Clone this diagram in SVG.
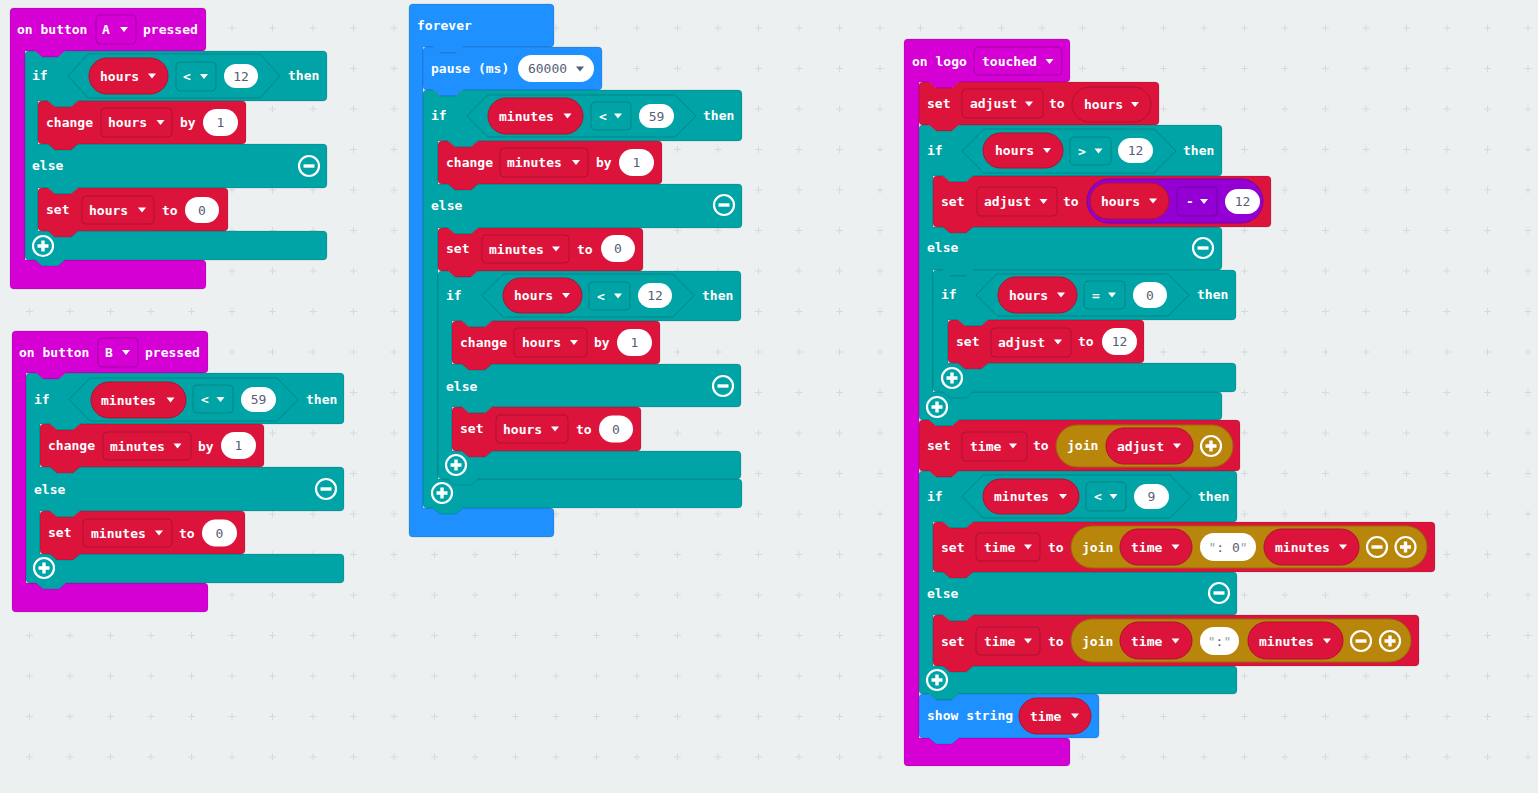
<svg xmlns="http://www.w3.org/2000/svg" xmlns:xlink="http://www.w3.org/1999/xlink" width="1538" height="793" viewBox="0 0 1538 793">
<style>
.ev{fill:#D400D4}.lg{fill:#00A4A6}.vr{fill:#DC143C}.bs{fill:#1E90FF}
.blk{stroke:rgba(0,0,0,0.13);stroke-width:1}
.hex{fill:#00A4A6;stroke:#008587;stroke-width:1}
.dr{fill:#DC143C;stroke:#B01030;stroke-width:1}
.dl{fill:#00A4A6;stroke:#008587;stroke-width:1}
.de{fill:#D400D4;stroke:#A800A8;stroke-width:1}
.dm{fill:#9400D3;stroke:#7300A5;stroke-width:1}
.dg{fill:#B8860B;stroke:#936B08;stroke-width:1}
.num{fill:#fff}
.t{font-family:"DejaVu Sans Mono","Liberation Mono",monospace;font-size:13px;font-weight:bold;fill:#fff;dominant-baseline:central}
.n{font-family:"DejaVu Sans Mono","Liberation Mono",monospace;font-size:13px;fill:#575E75;text-anchor:middle;dominant-baseline:central}
.q{fill:#9a9ea8}
.a{fill:#fff}
</style>
<defs>
<pattern id="grid" x="9.25" y="7.75" width="40.5" height="40.5" patternUnits="userSpaceOnUse"><path d="M16.75,20.25 h7 M20.25,16.75 v7" stroke="#d5dadc" stroke-width="1" fill="none"/></pattern>
<path id="ar" d="M-4,-2.5 h8 l-4,5 z"/>
<g id="plus"><circle r="10" fill="none" stroke="#fff" stroke-width="2.2"/><path d="M-5.5,0 h11 M0,-5.5 v11" stroke="#fff" stroke-width="3.4"/></g>
<g id="minus"><circle r="10" fill="none" stroke="#fff" stroke-width="2.2"/><path d="M-5.5,0 h11" stroke="#fff" stroke-width="3.4"/></g>
</defs>
<rect width="1538" height="793" fill="#ecf0f1"/>
<rect width="1538" height="793" fill="url(#grid)"/>

<g id="onButtonA">
<path class="ev blk" d="M10,12 a4,4 0 0 1 4,-4 H202 a4,4 0 0 1 4,4 V47 a4,4 0 0 1 -4,4 H65 l-7,6 h-16 l-7,-6 H25 V260 H202 a4,4 0 0 1 4,4 V285 a4,4 0 0 1 -4,4 H14 a4,4 0 0 1 -4,-4 Z"/>
<text class="t" x="17" y="29">on button</text>
<rect class="de" x="96" y="15" width="40" height="29" rx="4"/>
<text class="t" x="102" y="29.5">A</text><use href="#ar" class="a" x="124" y="29.5"/>
<text class="t" x="143" y="29">pressed</text>
<g id="ifA">
<path class="lg blk" d="M25,55 a4,4 0 0 1 4,-4 h6 l7,6 h16 l7,-6 H323 a4,4 0 0 1 4,4 V97 a4,4 0 0 1 -4,4 H78 l-7,6 h-16 l-7,-6 H38 V144 H323 a4,4 0 0 1 4,4 V184 a4,4 0 0 1 -4,4 H78 l-7,6 h-16 l-7,-6 H38 V231 H323 a4,4 0 0 1 4,4 V256 a4,4 0 0 1 -4,4 H65 l-7,6 h-16 l-7,-6 H29 a4,4 0 0 1 -4,-4 Z"/>
<text class="t" x="32" y="75">if</text>
<polygon class="hex" points="68,76 88,54 260,54 280,76 260,98 88,98"/>
<rect class="dr" x="89" y="58" width="79" height="36" rx="18"/>
<text class="t" x="100" y="76">hours</text><use href="#ar" class="a" x="152" y="76"/>
<rect class="dl" x="176" y="62" width="40" height="29" rx="4"/>
<text class="t" x="183" y="76.5">&lt;</text><use href="#ar" class="a" x="204" y="76.5"/>
<rect class="num" x="224" y="64" width="34" height="24" rx="12"/>
<text class="n" x="241" y="76">12</text>
<text class="t" x="288" y="75">then</text>
<text class="t" x="32" y="165">else</text>
<use href="#minus" x="309" y="166"/>
<use href="#plus" x="43" y="246"/>
</g>
<g id="changeA">
<path class="vr blk" d="M38,105 a4,4 0 0 1 4,-4 h6 l7,6 h16 l7,-6 H242 a4,4 0 0 1 4,4 V140 a4,4 0 0 1 -4,4 H78 l-7,6 h-16 l-7,-6 H42 a4,4 0 0 1 -4,-4 Z"/>
<text class="t" x="46" y="122.5">change</text>
<rect class="dr" x="101" y="108" width="71" height="29" rx="4"/>
<text class="t" x="108" y="122.5">hours</text><use href="#ar" class="a" x="160.5" y="122.5"/>
<text class="t" x="180" y="122.5">by</text>
<rect class="num" x="203" y="109" width="35" height="27" rx="13.5"/>
<text class="n" x="220.5" y="122.5">1</text>
</g>
<g id="setA">
<path class="vr blk" d="M38,192 a4,4 0 0 1 4,-4 h6 l7,6 h16 l7,-6 H224 a4,4 0 0 1 4,4 V227 a4,4 0 0 1 -4,4 H78 l-7,6 h-16 l-7,-6 H42 a4,4 0 0 1 -4,-4 Z"/>
<text class="t" x="46" y="209.5">set</text>
<rect class="dr" x="82" y="196" width="72" height="28" rx="4"/>
<text class="t" x="89" y="210">hours</text><use href="#ar" class="a" x="142" y="210"/>
<text class="t" x="162" y="210">to</text>
<rect class="num" x="185" y="197" width="34" height="26" rx="13"/>
<text class="n" x="202" y="210">0</text>
</g>
</g>

<g id="onButtonB">
<path class="ev blk" d="M12,335 a4,4 0 0 1 4,-4 H204 a4,4 0 0 1 4,4 V369 a4,4 0 0 1 -4,4 H66 l-7,6 h-16 l-7,-6 H26 V583 H204 a4,4 0 0 1 4,4 V608 a4,4 0 0 1 -4,4 H16 a4,4 0 0 1 -4,-4 Z"/>
<text class="t" x="19" y="352">on button</text>
<rect class="de" x="98" y="338" width="40" height="29" rx="4"/>
<text class="t" x="105" y="352.5">B</text><use href="#ar" class="a" x="126" y="352.5"/>
<text class="t" x="145" y="352">pressed</text>
<g id="ifB">
<path class="lg blk" d="M26,377 a4,4 0 0 1 4,-4 h6 l7,6 h16 l7,-6 H340 a4,4 0 0 1 4,4 V420 a4,4 0 0 1 -4,4 H80 l-7,6 h-16 l-7,-6 H40 V467 H340 a4,4 0 0 1 4,4 V507 a4,4 0 0 1 -4,4 H80 l-7,6 h-16 l-7,-6 H40 V554 H340 a4,4 0 0 1 4,4 V579 a4,4 0 0 1 -4,4 H66 l-7,6 h-16 l-7,-6 H30 a4,4 0 0 1 -4,-4 Z"/>
<text class="t" x="34" y="399">if</text>
<polygon class="hex" points="69,399.5 90,378 277,378 298,399.5 277,421 90,421"/>
<rect class="dr" x="91" y="382" width="95" height="36" rx="18"/>
<text class="t" x="101" y="400">minutes</text><use href="#ar" class="a" x="170.5" y="400"/>
<rect class="dl" x="193" y="385" width="40" height="28" rx="4"/>
<text class="t" x="201" y="399.5">&lt;</text><use href="#ar" class="a" x="220.5" y="399.5"/>
<rect class="num" x="241" y="387" width="35" height="25" rx="12.5"/>
<text class="n" x="258.5" y="399.5">59</text>
<text class="t" x="306" y="399">then</text>
<text class="t" x="34" y="489">else</text>
<use href="#minus" x="326" y="489"/>
<use href="#plus" x="44" y="568"/>
</g>
<g id="changeB">
<path class="vr blk" d="M40,428 a4,4 0 0 1 4,-4 h6 l7,6 h16 l7,-6 H260 a4,4 0 0 1 4,4 V463 a4,4 0 0 1 -4,4 H80 l-7,6 h-16 l-7,-6 H44 a4,4 0 0 1 -4,-4 Z"/>
<text class="t" x="48" y="445.5">change</text>
<rect class="dr" x="103" y="432" width="88" height="28" rx="4"/>
<text class="t" x="110" y="446">minutes</text><use href="#ar" class="a" x="177.5" y="446"/>
<text class="t" x="198" y="446">by</text>
<rect class="num" x="221" y="432" width="35" height="27" rx="13.5"/>
<text class="n" x="238.5" y="445.5">1</text>
</g>
<g id="setB">
<path class="vr blk" d="M40,515 a4,4 0 0 1 4,-4 h6 l7,6 h16 l7,-6 H241 a4,4 0 0 1 4,4 V550 a4,4 0 0 1 -4,4 H80 l-7,6 h-16 l-7,-6 H44 a4,4 0 0 1 -4,-4 Z"/>
<text class="t" x="48" y="532.5">set</text>
<rect class="dr" x="83" y="519" width="89" height="28" rx="4"/>
<text class="t" x="91" y="533">minutes</text><use href="#ar" class="a" x="159" y="533"/>
<text class="t" x="179" y="533">to</text>
<rect class="num" x="202" y="519.5" width="35" height="27" rx="13.5"/>
<text class="n" x="219.5" y="533">0</text>
</g>
</g>

<g id="forever">
<path class="bs blk" d="M409,8 a4,4 0 0 1 4,-4 H550 a4,4 0 0 1 4,4 V43 a4,4 0 0 1 -4,4 H463 l-7,6 h-16 l-7,-6 H423 V508 H550 a4,4 0 0 1 4,4 V533 a4,4 0 0 1 -4,4 H413 a4,4 0 0 1 -4,-4 Z"/>
<text class="t" x="417" y="25">forever</text>
<g id="pause">
<path class="bs blk" d="M423,51 a4,4 0 0 1 4,-4 h6 l7,6 h16 l7,-6 H598 a4,4 0 0 1 4,4 V86 a4,4 0 0 1 -4,4 H463 l-7,6 h-16 l-7,-6 H427 a4,4 0 0 1 -4,-4 Z"/>
<text class="t" x="431" y="68.5">pause (ms)</text>
<rect class="num" x="518" y="55" width="76" height="27" rx="13.5"/>
<text class="n" x="547.5" y="68.5">60000</text><use href="#ar" x="580" y="69" fill="#575E75"/>
</g>
<g id="ifF1">
<path class="lg blk" d="M423,94 a4,4 0 0 1 4,-4 h6 l7,6 h16 l7,-6 H738 a4,4 0 0 1 4,4 V137 a4,4 0 0 1 -4,4 H478 l-7,6 h-16 l-7,-6 H438 V184 H738 a4,4 0 0 1 4,4 V224 a4,4 0 0 1 -4,4 H478 l-7,6 h-16 l-7,-6 H438 V479 H738 a4,4 0 0 1 4,4 V504 a4,4 0 0 1 -4,4 H463 l-7,6 h-16 l-7,-6 H427 a4,4 0 0 1 -4,-4 Z"/>
<text class="t" x="431" y="115.5">if</text>
<polygon class="hex" points="467,116 488,95 675,95 696,116 675,137 488,137"/>
<rect class="dr" x="488" y="98" width="95" height="36" rx="18"/>
<text class="t" x="499" y="116">minutes</text><use href="#ar" class="a" x="567.5" y="116"/>
<rect class="dl" x="591" y="102" width="40" height="28" rx="4"/>
<text class="t" x="599" y="116">&lt;</text><use href="#ar" class="a" x="618" y="116"/>
<rect class="num" x="639" y="104" width="35" height="24" rx="12"/>
<text class="n" x="656.5" y="116">59</text>
<text class="t" x="703" y="115.5">then</text>
<text class="t" x="431" y="205.5">else</text>
<use href="#minus" x="724" y="205"/>
<use href="#plus" x="442" y="493"/>
</g>
<g id="changeF1">
<path class="vr blk" d="M438,145 a4,4 0 0 1 4,-4 h6 l7,6 h16 l7,-6 H658 a4,4 0 0 1 4,4 V180 a4,4 0 0 1 -4,4 H478 l-7,6 h-16 l-7,-6 H442 a4,4 0 0 1 -4,-4 Z"/>
<text class="t" x="446" y="162.5">change</text>
<rect class="dr" x="500" y="148" width="88" height="29" rx="4"/>
<text class="t" x="507" y="162.5">minutes</text><use href="#ar" class="a" x="576" y="162.5"/>
<text class="t" x="596" y="162.5">by</text>
<rect class="num" x="619" y="149" width="35" height="27" rx="13.5"/>
<text class="n" x="636.5" y="162.5">1</text>
</g>
<g id="setF1">
<path class="vr blk" d="M438,232 a4,4 0 0 1 4,-4 h6 l7,6 h16 l7,-6 H639 a4,4 0 0 1 4,4 V267 a4,4 0 0 1 -4,4 H478 l-7,6 h-16 l-7,-6 H442 a4,4 0 0 1 -4,-4 Z"/>
<text class="t" x="446" y="248.5">set</text>
<rect class="dr" x="482" y="235" width="87" height="28" rx="4"/>
<text class="t" x="489" y="249">minutes</text><use href="#ar" class="a" x="556" y="249"/>
<text class="t" x="577" y="249">to</text>
<rect class="num" x="601" y="235" width="34" height="27" rx="13.5"/>
<text class="n" x="618" y="248.5">0</text>
</g>
<g id="ifF2">
<path class="lg blk" d="M438,275 a4,4 0 0 1 4,-4 h6 l7,6 h16 l7,-6 H737 a4,4 0 0 1 4,4 V317 a4,4 0 0 1 -4,4 H492 l-7,6 h-16 l-7,-6 H452 V364 H737 a4,4 0 0 1 4,4 V403 a4,4 0 0 1 -4,4 H492 l-7,6 h-16 l-7,-6 H452 V451 H737 a4,4 0 0 1 4,4 V475 a4,4 0 0 1 -4,4 H478 l-7,6 h-16 l-7,-6 H442 a4,4 0 0 1 -4,-4 Z"/>
<text class="t" x="446" y="295.5">if</text>
<polygon class="hex" points="482,295.5 503,274 673,274 694,295.5 673,317 503,317"/>
<rect class="dr" x="503" y="278" width="79" height="35" rx="17.5"/>
<text class="t" x="514" y="295.5">hours</text><use href="#ar" class="a" x="566" y="295.5"/>
<rect class="dl" x="589" y="282" width="41" height="28" rx="4"/>
<text class="t" x="597" y="296">&lt;</text><use href="#ar" class="a" x="618" y="296"/>
<rect class="num" x="638" y="283" width="34" height="25" rx="12.5"/>
<text class="n" x="655" y="295.5">12</text>
<text class="t" x="702" y="295.5">then</text>
<text class="t" x="446" y="386">else</text>
<use href="#minus" x="723" y="386"/>
<use href="#plus" x="456" y="465"/>
</g>
<g id="changeF2">
<path class="vr blk" d="M452,325 a4,4 0 0 1 4,-4 h6 l7,6 h16 l7,-6 H656 a4,4 0 0 1 4,4 V360 a4,4 0 0 1 -4,4 H492 l-7,6 h-16 l-7,-6 H456 a4,4 0 0 1 -4,-4 Z"/>
<text class="t" x="460" y="342.5">change</text>
<rect class="dr" x="514" y="328" width="73" height="29" rx="4"/>
<text class="t" x="522" y="342.5">hours</text><use href="#ar" class="a" x="574" y="342.5"/>
<text class="t" x="594" y="342.5">by</text>
<rect class="num" x="617" y="329" width="35" height="27" rx="13.5"/>
<text class="n" x="634.5" y="342.5">1</text>
</g>
<g id="setF2">
<path class="vr blk" d="M452,411 a4,4 0 0 1 4,-4 h6 l7,6 h16 l7,-6 H637 a4,4 0 0 1 4,4 V447 a4,4 0 0 1 -4,4 H492 l-7,6 h-16 l-7,-6 H456 a4,4 0 0 1 -4,-4 Z"/>
<text class="t" x="460" y="428.5">set</text>
<rect class="dr" x="496" y="415" width="72" height="28" rx="4"/>
<text class="t" x="503" y="429">hours</text><use href="#ar" class="a" x="555" y="429"/>
<text class="t" x="576" y="429">to</text>
<rect class="num" x="599" y="415.5" width="34" height="27" rx="13.5"/>
<text class="n" x="616" y="429">0</text>
</g>
</g>

<g id="onLogoTouched">
<path class="ev blk" d="M904,43 a4,4 0 0 1 4,-4 H1066 a4,4 0 0 1 4,4 V78 a4,4 0 0 1 -4,4 H959 l-7,6 h-16 l-7,-6 H919 V738 H1066 a4,4 0 0 1 4,4 V762 a4,4 0 0 1 -4,4 H908 a4,4 0 0 1 -4,-4 Z"/>
<text class="t" x="912" y="61">on logo</text>
<rect class="de" x="974" y="47" width="88" height="28" rx="4"/>
<text class="t" x="982" y="61">touched</text><use href="#ar" class="a" x="1049.5" y="61.5"/>
<g id="setAdjustHours">
<path class="vr blk" d="M919,86 a4,4 0 0 1 4,-4 h6 l7,6 h16 l7,-6 H1155 a4,4 0 0 1 4,4 V121 a4,4 0 0 1 -4,4 H959 l-7,6 h-16 l-7,-6 H923 a4,4 0 0 1 -4,-4 Z"/>
<text class="t" x="927" y="103.5">set</text>
<rect class="dr" x="962" y="89" width="81" height="29" rx="4"/>
<text class="t" x="970" y="103.5">adjust</text><use href="#ar" class="a" x="1029" y="104"/>
<text class="t" x="1049" y="103.5">to</text>
<rect class="dr" x="1072" y="87" width="79" height="35" rx="17.5"/>
<text class="t" x="1084" y="104.5">hours</text><use href="#ar" class="a" x="1135" y="104.5"/>
</g>
<g id="ifL1">
<path class="lg blk" d="M919,129 a4,4 0 0 1 4,-4 h6 l7,6 h16 l7,-6 H1218 a4,4 0 0 1 4,4 V172 a4,4 0 0 1 -4,4 H973 l-7,6 h-16 l-7,-6 H933 V227 H1218 a4,4 0 0 1 4,4 V266 a4,4 0 0 1 -4,4 H973 l-7,6 h-16 l-7,-6 H933 V392 H1218 a4,4 0 0 1 4,4 V416 a4,4 0 0 1 -4,4 H959 l-7,6 h-16 l-7,-6 H923 a4,4 0 0 1 -4,-4 Z"/>
<text class="t" x="927" y="150">if</text>
<polygon class="hex" points="962,151 984,129 1154,129 1176,151 1154,173 984,173"/>
<rect class="dr" x="983" y="133" width="80" height="35" rx="17.5"/>
<text class="t" x="995" y="150.5">hours</text><use href="#ar" class="a" x="1047" y="150.5"/>
<rect class="dl" x="1070" y="137" width="41" height="28" rx="4"/>
<text class="t" x="1078" y="151">&gt;</text><use href="#ar" class="a" x="1098.5" y="151"/>
<rect class="num" x="1118" y="138" width="35" height="25" rx="12.5"/>
<text class="n" x="1135.5" y="150.5">12</text>
<text class="t" x="1183" y="150">then</text>
<text class="t" x="927" y="247">else</text>
<use href="#minus" x="1203" y="248"/>
<use href="#plus" x="937" y="407"/>
</g>
<g id="setAdjustMinus">
<path class="vr blk" d="M933,180 a4,4 0 0 1 4,-4 h6 l7,6 h16 l7,-6 H1267 a4,4 0 0 1 4,4 V223 a4,4 0 0 1 -4,4 H973 l-7,6 h-16 l-7,-6 H937 a4,4 0 0 1 -4,-4 Z"/>
<text class="t" x="941" y="201.5">set</text>
<rect class="dr" x="977" y="187" width="80" height="29" rx="4"/>
<text class="t" x="984" y="201.5">adjust</text><use href="#ar" class="a" x="1043.5" y="201.5"/>
<text class="t" x="1063" y="201.5">to</text>
<rect class="dm" x="1087" y="179" width="176" height="44" rx="22"/>
<rect class="dr" x="1090" y="183" width="79" height="36" rx="18"/>
<text class="t" x="1101" y="201">hours</text><use href="#ar" class="a" x="1153" y="201"/>
<rect class="dm" x="1177" y="187" width="40" height="29" rx="4"/>
<text class="t" x="1186" y="201.5">-</text><use href="#ar" class="a" x="1204" y="201.5"/>
<rect class="num" x="1225" y="189" width="35" height="25" rx="12.5"/>
<text class="n" x="1242.5" y="201.5">12</text>
</g>
<g id="ifL2">
<path class="lg blk" d="M933,274 a4,4 0 0 1 4,-4 h6 l7,6 h16 l7,-6 H1232 a4,4 0 0 1 4,4 V316 a4,4 0 0 1 -4,4 H988 l-7,6 h-16 l-7,-6 H948 V363 H1232 a4,4 0 0 1 4,4 V388 a4,4 0 0 1 -4,4 H973 l-7,6 h-16 l-7,-6 H937 a4,4 0 0 1 -4,-4 Z"/>
<text class="t" x="941" y="294.5">if</text>
<polygon class="hex" points="976,295 997,274 1168,274 1189,295 1168,316 997,316"/>
<rect class="dr" x="998" y="277" width="79" height="36" rx="18"/>
<text class="t" x="1009" y="295">hours</text><use href="#ar" class="a" x="1061" y="295"/>
<rect class="dl" x="1084" y="281" width="41" height="28" rx="4"/>
<text class="t" x="1092" y="295">=</text><use href="#ar" class="a" x="1112" y="295"/>
<rect class="num" x="1133" y="282" width="34" height="26" rx="13"/>
<text class="n" x="1150" y="295">0</text>
<text class="t" x="1197" y="294.5">then</text>
<use href="#plus" x="952" y="378"/>
</g>
<g id="setAdjust12">
<path class="vr blk" d="M948,324 a4,4 0 0 1 4,-4 h6 l7,6 h16 l7,-6 H1140 a4,4 0 0 1 4,4 V359 a4,4 0 0 1 -4,4 H988 l-7,6 h-16 l-7,-6 H952 a4,4 0 0 1 -4,-4 Z"/>
<text class="t" x="956" y="341.5">set</text>
<rect class="dr" x="991" y="328" width="80" height="29" rx="4"/>
<text class="t" x="998" y="342">adjust</text><use href="#ar" class="a" x="1058" y="342"/>
<text class="t" x="1078" y="341.5">to</text>
<rect class="num" x="1102" y="328" width="35" height="27" rx="13.5"/>
<text class="n" x="1119.5" y="341.5">12</text>
</g>
<g id="setTimeJoinAdjust">
<path class="vr blk" d="M919,424 a4,4 0 0 1 4,-4 h6 l7,6 h16 l7,-6 H1236 a4,4 0 0 1 4,4 V467 a4,4 0 0 1 -4,4 H959 l-7,6 h-16 l-7,-6 H923 a4,4 0 0 1 -4,-4 Z"/>
<text class="t" x="927" y="445.5">set</text>
<rect class="dr" x="962" y="432" width="65" height="29" rx="4"/>
<text class="t" x="970" y="446">time</text><use href="#ar" class="a" x="1013" y="446"/>
<text class="t" x="1033" y="445.5">to</text>
<rect class="dg" x="1056" y="425" width="177" height="42" rx="21"/>
<text class="t" x="1067" y="445.5">join</text>
<rect class="dr" x="1106" y="428" width="87" height="36" rx="18"/>
<text class="t" x="1117" y="446">adjust</text><use href="#ar" class="a" x="1177" y="446"/>
<use href="#plus" x="1211" y="446"/>
</g>
<g id="ifL3">
<path class="lg blk" d="M919,475 a4,4 0 0 1 4,-4 h6 l7,6 h16 l7,-6 H1233 a4,4 0 0 1 4,4 V518 a4,4 0 0 1 -4,4 H973 l-7,6 h-16 l-7,-6 H933 V572 H1233 a4,4 0 0 1 4,4 V611 a4,4 0 0 1 -4,4 H973 l-7,6 h-16 l-7,-6 H933 V666 H1233 a4,4 0 0 1 4,4 V690 a4,4 0 0 1 -4,4 H959 l-7,6 h-16 l-7,-6 H923 a4,4 0 0 1 -4,-4 Z"/>
<text class="t" x="927" y="496.5">if</text>
<polygon class="hex" points="962,496.5 983,475 1170,475 1191,496.5 1170,518 983,518"/>
<rect class="dr" x="983" y="479" width="96" height="35" rx="17.5"/>
<text class="t" x="994" y="496.5">minutes</text><use href="#ar" class="a" x="1063" y="496.5"/>
<rect class="dl" x="1086" y="482" width="40" height="29" rx="4"/>
<text class="t" x="1094" y="496.5">&lt;</text><use href="#ar" class="a" x="1113.5" y="496.5"/>
<rect class="num" x="1134" y="484" width="35" height="25" rx="12.5"/>
<text class="n" x="1151.5" y="496.5">9</text>
<text class="t" x="1198" y="496.5">then</text>
<text class="t" x="927" y="593">else</text>
<use href="#minus" x="1219" y="593"/>
<use href="#plus" x="937" y="680"/>
</g>
<g id="setTimeJoin0">
<path class="vr blk" d="M933,526 a4,4 0 0 1 4,-4 h6 l7,6 h16 l7,-6 H1431 a4,4 0 0 1 4,4 V568 a4,4 0 0 1 -4,4 H973 l-7,6 h-16 l-7,-6 H937 a4,4 0 0 1 -4,-4 Z"/>
<text class="t" x="941" y="547">set</text>
<rect class="dr" x="976" y="533" width="64" height="28" rx="4"/>
<text class="t" x="984" y="547">time</text><use href="#ar" class="a" x="1028" y="547"/>
<text class="t" x="1048" y="547">to</text>
<rect class="dg" x="1071" y="526" width="356" height="42" rx="21"/>
<text class="t" x="1082" y="547">join</text>
<rect class="dr" x="1120" y="529" width="72" height="36" rx="18"/>
<text class="t" x="1131" y="547">time</text><use href="#ar" class="a" x="1175.5" y="547"/>
<rect class="num" x="1200" y="533" width="56" height="28" rx="14"/>
<text class="n" x="1228" y="547"><tspan class="q">"</tspan>: 0<tspan class="q">"</tspan></text>
<rect class="dr" x="1264" y="529" width="95" height="36" rx="18"/>
<text class="t" x="1275" y="547">minutes</text><use href="#ar" class="a" x="1343" y="547"/>
<use href="#minus" x="1377" y="547"/>
<use href="#plus" x="1405.5" y="547"/>
</g>
<g id="setTimeJoin">
<path class="vr blk" d="M933,619 a4,4 0 0 1 4,-4 h6 l7,6 h16 l7,-6 H1415 a4,4 0 0 1 4,4 V662 a4,4 0 0 1 -4,4 H973 l-7,6 h-16 l-7,-6 H937 a4,4 0 0 1 -4,-4 Z"/>
<text class="t" x="941" y="641">set</text>
<rect class="dr" x="976" y="627" width="64" height="28" rx="4"/>
<text class="t" x="984" y="641">time</text><use href="#ar" class="a" x="1028" y="641"/>
<text class="t" x="1048" y="641">to</text>
<rect class="dg" x="1071" y="619" width="340" height="43" rx="21.5"/>
<text class="t" x="1082" y="641">join</text>
<rect class="dr" x="1120" y="622" width="72" height="37" rx="18.5"/>
<text class="t" x="1131" y="641">time</text><use href="#ar" class="a" x="1175.5" y="641"/>
<rect class="num" x="1200" y="627" width="39" height="28" rx="14"/>
<text class="n" x="1219.5" y="641"><tspan class="q">"</tspan>:<tspan class="q">"</tspan></text>
<rect class="dr" x="1248" y="622" width="95" height="37" rx="18.5"/>
<text class="t" x="1259" y="641">minutes</text><use href="#ar" class="a" x="1327" y="641"/>
<use href="#minus" x="1361" y="641"/>
<use href="#plus" x="1390" y="641"/>
</g>
<g id="showString">
<path class="bs blk" d="M919,698 a4,4 0 0 1 4,-4 h6 l7,6 h16 l7,-6 H1095 a4,4 0 0 1 4,4 V734 a4,4 0 0 1 -4,4 H959 l-7,6 h-16 l-7,-6 H923 a4,4 0 0 1 -4,-4 Z"/>
<text class="t" x="927" y="715.5">show string</text>
<rect class="dr" x="1019" y="698" width="72" height="36" rx="18"/>
<text class="t" x="1030" y="716">time</text><use href="#ar" class="a" x="1075" y="716"/>
</g>
</g>
</svg>
